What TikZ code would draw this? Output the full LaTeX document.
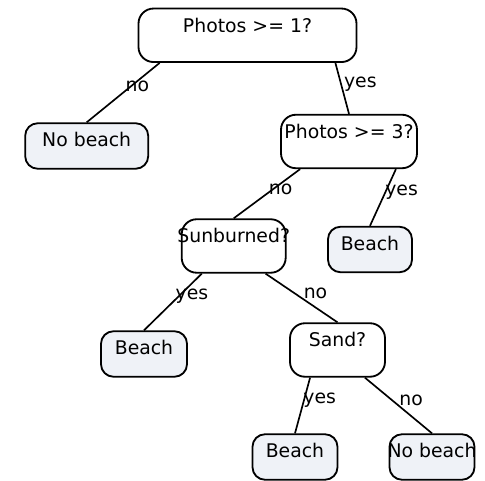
\documentclass[tikz,border=0pt]{standalone}
\usepackage{fontspec}
\setmainfont{DejaVu Sans}
\usetikzlibrary{positioning}
\definecolor{leaffill}{RGB}{239,242,247}
\newcommand{\treefont}{\fontsize{11.3}{13.5}\selectfont}
\tikzset{
  question/.style={
    draw, rounded corners=9pt, line width=1.1pt,
    fill=white, inner sep=0pt,
    text height=14.2pt, text depth=17.9pt,
    font=\treefont
  },
  leaf/.style={
    draw, rounded corners=7.5pt, line width=1.1pt,
    fill=leaffill, inner sep=0pt,
    text height=14.2pt, text depth=13.1pt,
    font=\treefont
  },
  branch/.style={draw, line width=1pt},
  answer/.style={font=\treefont, inner sep=0pt, pos=.36, yshift=-1.5pt},
}

\begin{document}
\begin{tikzpicture}[x=0.6pt, y=-0.6pt]
  \useasboundingbox (0,0) rectangle (485,481);

  % questions
  \node[question, minimum width=130.8pt] (photos1) at (247.5,35.3) {Photos >= 1?};
  \node[question, minimum width=81.6pt]  (photos3) at (349,141.5) {Photos >= 3?};
  \node[question, minimum width=62.4pt]  (sunburn) at (233.7,246) {\makebox[0pt]{Sunburned?}};
  \node[question, minimum width=57pt]    (sand)    at (337.5,350) {Sand?};

  % answers
  \node[leaf, minimum width=73.8pt] (nobeachA) at (86.7,146)  {No beach};
  \node[leaf, minimum width=50.4pt] (beachA)   at (370,249.5) {Beach};
  \node[leaf, minimum width=51.6pt] (beachB)   at (144,354)   {Beach};
  \node[leaf, minimum width=51pt]   (beachC)   at (295,457)   {Beach};
  \node[leaf, minimum width=51pt]   (nobeachB) at (432,457)   {\makebox[0pt]{No beach}};

  % branches
  \draw[branch] ([xshift=13.2pt]photos1.south west) -- node[answer, xshift=2.4pt] {no} (nobeachA.north);
  \draw[branch] ([xshift=-13.2pt]photos1.south east) -- node[answer, xshift=12pt] {yes} (photos3.north);
  \draw[branch] ([xshift=12pt]photos3.south west) -- node[answer, xshift=2.7pt] {no} (sunburn.north);
  \draw[branch] ([xshift=-13.2pt]photos3.south east) -- node[answer, xshift=9pt] {yes} (beachA.north);
  \draw[branch] ([xshift=12.6pt]sunburn.south west) -- node[answer, xshift=6.6pt] {yes} (beachB.north);
  \draw[branch] ([xshift=-12.6pt]sunburn.south east) -- node[answer, xshift=14.4pt] {no} (sand.north);
  \draw[branch] ([xshift=12.6pt]sand.south west) -- node[answer, xshift=9pt] {yes} (beachC.north);
  \draw[branch] ([xshift=-12.6pt]sand.south east) -- node[answer, xshift=13.2pt] {no} (nobeachB.north);
\end{tikzpicture}
\end{document}
